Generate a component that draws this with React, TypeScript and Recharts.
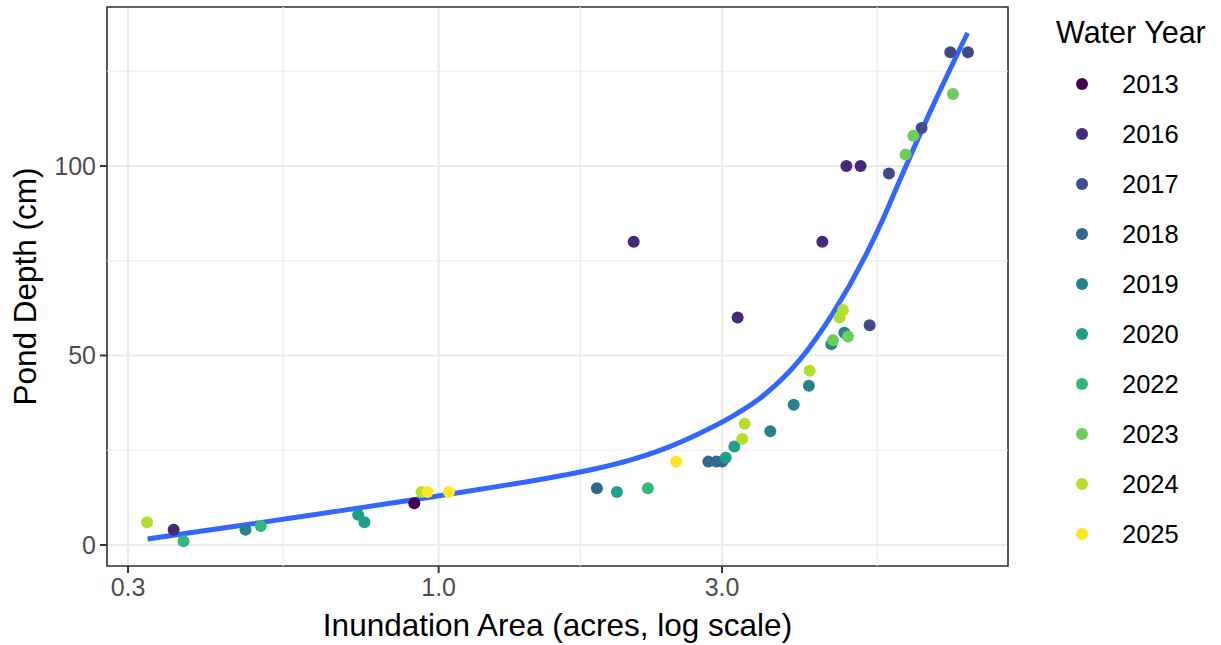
import {
  ComposedChart,
  Scatter,
  Line,
  XAxis,
  YAxis,
  CartesianGrid,
  ReferenceLine,
  ReferenceArea,
  Label,
} from "recharts";

const years = [2013, 2016, 2017, 2018, 2019, 2020, 2022, 2023, 2024, 2025];
const yearColors = [
  "#440154",
  "#482878",
  "#3E4A89",
  "#31688E",
  "#26828E",
  "#1F9E89",
  "#35B779",
  "#6DCD59",
  "#B4DE2C",
  "#FDE725",
];

// one entry per observation: water year, inundated area (acres), depth (cm)
const pointYear = [
  2024, 2016, 2022, 2019, 2022, 2020, 2020, 2013, 2024, 2025, 2025,
  2018, 2020, 2022, 2025, 2018, 2018, 2018, 2020, 2020, 2024, 2024,
  2019, 2019, 2016, 2016, 2016, 2024, 2024, 2019, 2023, 2017, 2019,
  2023, 2024, 2019, 2017, 2017, 2023, 2017, 2023, 2023, 2017, 2016, 2016,
];
const pointArea = [
  0.323, 0.358, 0.372, 0.473, 0.502, 0.732, 0.75, 0.91, 0.936, 0.958, 1.041,
  1.847, 1.996, 2.251, 2.512, 2.845, 2.935, 3.003, 3.043, 3.147, 3.245, 3.275,
  3.617, 3.96, 2.13, 4.426, 3.187, 4.794, 4.733, 4.82, 4.889, 5.317, 4.583,
  4.612, 4.213, 4.201, 7.268, 7.783, 7.342, 6.503, 6.297, 6.113, 5.73, 4.858, 5.133,
];
const pointDepth = [
  6, 4, 1, 4, 5, 8, 6, 11, 14, 14, 14,
  15, 14, 15, 22, 22, 22, 22, 23, 26, 28, 32,
  30, 37, 80, 80, 60, 62, 60, 56, 55, 58, 53,
  54, 46, 42, 130, 130, 119, 110, 108, 103, 98, 100, 100,
];

// fitted smooth curve
const fitArea = [
  0.3236, 0.4, 0.5, 0.6, 0.75, 0.967, 1.1, 1.252, 1.425, 1.621, 1.846, 2.1,
  2.389, 2.72, 3.095, 3.462, 4.058, 4.61, 5.25, 5.6, 5.97, 6.79, 7.77,
];
const fitDepth = [
  1.6, 3.7, 5.9, 7.7, 10.0, 12.6, 14.0, 15.4, 16.8, 18.4, 20.2, 22.4,
  25.3, 29.1, 33.6, 38.5, 48.9, 61.1, 76.8, 86.0, 96.1, 115.8, 135.1,
];

const xTicks = [0.3, 1, 3];
const xMinorTicks = [0.5477, 1.7321, 5.4772];
const yTicks = [0, 50, 100];
const yMinorTicks = [25, 75, 125];

const X_DOMAIN: [number, number] = [0.2765, 9.09];
const Y_DOMAIN: [number, number] = [-5.54, 141.95];

const FONT = "'Liberation Sans', Arial, Helvetica, sans-serif";
const GRID = "#EBEBEB";

const pointsByYear = years.map((year) =>
  pointYear
    .map((y, i) => ({ year: y, area: pointArea[i], depth: pointDepth[i] }))
    .filter((p) => p.year === year)
);

const fitData = fitArea.map((area, i) => ({ area, depth: fitDepth[i] }));

const dot = (color: string) => (props: any) =>
  <circle cx={props.cx} cy={props.cy} r={6} fill={color} />;

export default function App() {
  return (
    <div
      style={{
        position: "absolute",
        left: 0,
        top: 0,
        width: 1221,
        height: 645,
        background: "#fff",
        fontFamily: FONT,
      }}
    >
      <ComposedChart
        width={1221}
        height={645}
        margin={{ top: 7, right: 213, bottom: 0, left: 0 }}
      >
        <CartesianGrid stroke={GRID} strokeWidth={2.2} />
        {xMinorTicks.map((x) => (
          <ReferenceLine key={`vx${x}`} x={x} stroke={GRID} strokeWidth={1.2} />
        ))}
        {yMinorTicks.map((y) => (
          <ReferenceLine key={`hy${y}`} y={y} stroke={GRID} strokeWidth={1.2} />
        ))}
        <XAxis
          dataKey="area"
          type="number"
          scale="log"
          domain={X_DOMAIN}
          allowDataOverflow
          ticks={xTicks}
          tickFormatter={(v: number) => v.toFixed(1)}
          height={79}
          axisLine={false}
          tickLine={{ stroke: "#333333", strokeWidth: 2 }}
          tickSize={7}
          tickMargin={5}
          tick={{ fill: "#4D4D4D", fontSize: 25, fontFamily: FONT }}
        >
          <Label
            value="Inundation Area (acres, log scale)"
            position="insideBottom"
            offset={9}
            style={{ fill: "#000", fontSize: 31.5, fontFamily: FONT }}
          />
        </XAxis>
        <YAxis
          dataKey="depth"
          type="number"
          domain={Y_DOMAIN}
          allowDataOverflow
          ticks={yTicks}
          width={107}
          axisLine={false}
          tickLine={{ stroke: "#333333", strokeWidth: 2 }}
          tickSize={7}
          tickMargin={4}
          tick={{ fill: "#4D4D4D", fontSize: 25, fontFamily: FONT }}
        >
          <Label
            value="Pond Depth (cm)"
            angle={-90}
            position="insideLeft"
            offset={25}
            style={{ fill: "#000", fontSize: 31.5, fontFamily: FONT, textAnchor: "middle" }}
          />
        </YAxis>
        <Line
          data={fitData}
          dataKey="depth"
          type="monotone"
          stroke="#3366FF"
          strokeWidth={5}
          dot={false}
          activeDot={false}
          isAnimationActive={false}
        />
        {pointsByYear.map((pts, i) => (
          <Scatter
            key={years[i]}
            data={pts}
            dataKey="depth"
            shape={dot(yearColors[i])}
            isAnimationActive={false}
          />
        ))}
        <ReferenceArea
          x1={X_DOMAIN[0]}
          x2={X_DOMAIN[1]}
          y1={Y_DOMAIN[0]}
          y2={Y_DOMAIN[1]}
          fill="none"
          fillOpacity={0}
          stroke="#333333"
          strokeWidth={1.6}
          ifOverflow="visible"
        />
      </ComposedChart>
      <svg
        width={1221}
        height={645}
        style={{ position: "absolute", left: 0, top: 0, pointerEvents: "none" }}
      >
        <text x={1056} y={43} fontSize={30.5} fontFamily={FONT} fill="#000">
          Water Year
        </text>
        {years.map((year, i) => {
          const cy = 84 + i * 50;
          return (
            <g key={year}>
              <circle cx={1082} cy={cy} r={6} fill={yearColors[i]} />
              <text
                x={1122}
                y={cy + 9}
                fontSize={25.5}
                fontFamily={FONT}
                fill="#000"
              >
                {year}
              </text>
            </g>
          );
        })}
      </svg>
    </div>
  );
}
